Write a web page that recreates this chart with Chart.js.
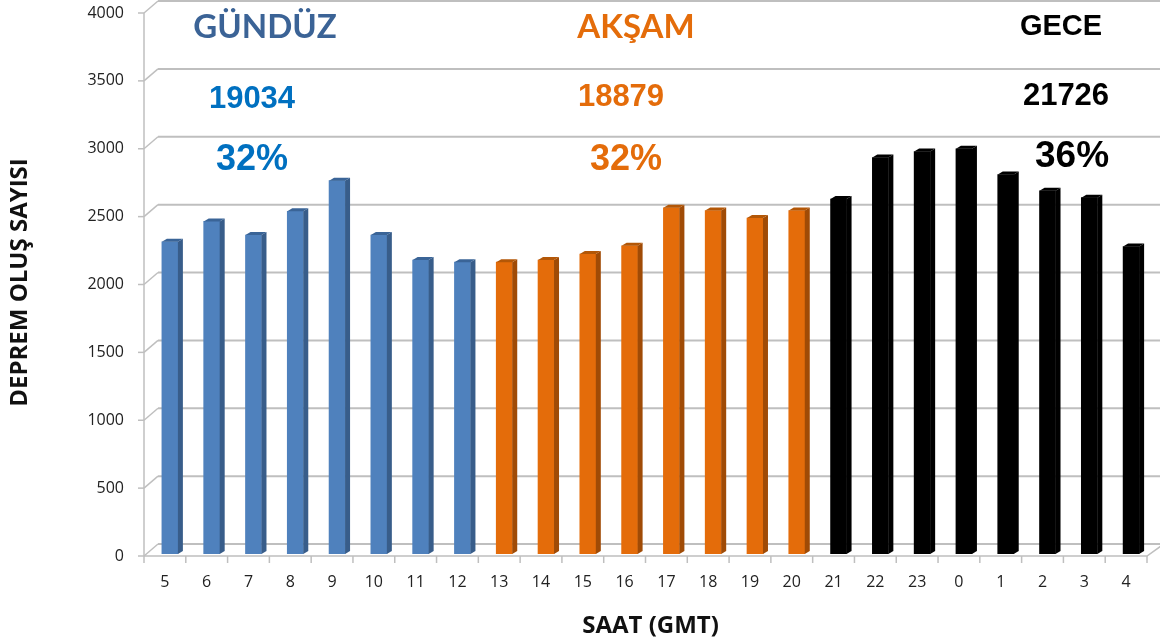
<!DOCTYPE html>
<html>
<head>
<meta charset="utf-8">
<script src="https://cdn.jsdelivr.net/npm/chart.js@4.4.0/dist/chart.umd.min.js"></script>
<style>
  html, body { margin: 0; padding: 0; background: #fff; }
  #wrap { width: 1160px; height: 644px; }
</style>
</head>
<body>
<div id="wrap"><canvas id="chart" width="1160" height="644"></canvas></div>
<script>
// hourly earthquake counts, GMT hours 5..4
const hours = ['5', '6', '7', '8', '9', '10', '11', '12', '13', '14', '15', '16',
  '17', '18', '19', '20', '21', '22', '23', '0', '1', '2', '3', '4']
const counts = [2300, 2450, 2350, 2525, 2750, 2350, 2165, 2150,
  2150, 2165, 2210, 2270, 2550, 2530, 2475, 2530,
  2615, 2920, 2965, 2985, 2795, 2675, 2625, 2265]

const periods = ['GÜNDÜZ', 'AKŞAM', 'GECE']
const periodHours = [8, 8, 8]
const periodTotals = [19034, 18879, 21726]
const periodShares = ['32%', '32%', '36%']

const FRONT = ['#4F81BD', '#E46C0A', '#000000']
const SIDE = ['#385D8A', '#A04B06', '#000000']
const CAP = ['#3A6497', '#B35707', '#000000']
const HEAD_COLORS = ['#3B6396', '#E46C0A', '#000000']
const NUM_COLORS = ['#0070C0', '#E46C0A', '#000000']

const GRID = '#BFBFBF'
const DX = 14, DY = -10 // back wall offset
const SHIFT = 5 // bars sit a little right of their label
const FRONT_DY = 2 // front edge sits a bit below the bars' base

function periodOf(i) {
  let acc = 0
  for (let p = 0; p < periodHours.length; p++) {
    acc += periodHours[p]
    if (i < acc) return p
  }
  return periodHours.length - 1
}

const wallPlugin = {
  id: 'wall',
  beforeDatasetsDraw(chart) {
    const { ctx, scales: { x, y } } = chart
    const left = x.left - SHIFT
    const right = x.right - SHIFT
    ctx.save()
    ctx.strokeStyle = GRID
    // back wall grid and connectors
    for (let v = 0; v <= 4000; v += 500) {
      const py = y.getPixelForValue(v)
      ctx.lineWidth = 2
      ctx.beginPath()
      ctx.moveTo(left + DX, py + DY)
      ctx.lineTo(chart.width, py + DY)
      ctx.stroke()
      ctx.lineWidth = 1.5
      ctx.beginPath()
      ctx.moveTo(left, py + FRONT_DY)
      ctx.lineTo(left + DX, py + DY)
      ctx.stroke()
      // front tick
      ctx.beginPath()
      ctx.moveTo(left - 6, py + FRONT_DY)
      ctx.lineTo(left, py + FRONT_DY)
      ctx.stroke()
    }
    // front axis line
    ctx.lineWidth = 1.5
    ctx.beginPath()
    ctx.moveTo(left, y.getPixelForValue(4000) + FRONT_DY)
    ctx.lineTo(left, y.getPixelForValue(0) + FRONT_DY)
    ctx.stroke()
    // floor front edge + right connector
    const base = y.getPixelForValue(0) + FRONT_DY
    ctx.beginPath()
    ctx.moveTo(left, base)
    ctx.lineTo(right, base)
    ctx.lineTo(right + DX, base + DY)
    ctx.stroke()
    // category tick marks
    const w = (x.right - x.left) / hours.length
    for (let i = 0; i <= hours.length; i++) {
      const px = x.left + i * w - SHIFT
      ctx.beginPath()
      ctx.moveTo(px, base)
      ctx.lineTo(px, base + 7)
      ctx.stroke()
    }
    ctx.restore()
  },
  afterDatasetsDraw(chart) {
    const { ctx } = chart
    const meta = chart.getDatasetMeta(0)
    ctx.save()
    meta.data.forEach((el, i) => {
      const p = periodOf(i)
      const l = el.x - el.width / 2
      const r = el.x + el.width / 2
      const d = 5, h = 3
      ctx.fillStyle = SIDE[p]
      ctx.beginPath()
      ctx.moveTo(r, el.y)
      ctx.lineTo(r + d, el.y - h)
      ctx.lineTo(r + d, el.base - h)
      ctx.lineTo(r, el.base)
      ctx.closePath()
      ctx.fill()
      ctx.fillStyle = CAP[p]
      ctx.beginPath()
      ctx.moveTo(l, el.y)
      ctx.lineTo(l + d, el.y - h)
      ctx.lineTo(r + d, el.y - h)
      ctx.lineTo(r, el.y)
      ctx.closePath()
      ctx.fill()
    })
    ctx.restore()
  },
}

const headPos = [[265, 27], [636, 27], [1061, 27]]
const totalPos = [[252, 99], [621, 97], [1066, 96]]
const sharePos = [[252, 160], [626, 160], [1072, 157]]

const textPlugin = {
  id: 'periodText',
  afterDraw(chart) {
    const { ctx } = chart
    ctx.save()
    ctx.textAlign = 'center'
    ctx.textBaseline = 'middle'
    periods.forEach((name, p) => {
      ctx.fillStyle = HEAD_COLORS[p]
      ctx.font = p === 2 ? 'bold 29px "Liberation Sans"' : 'bold 33px Lato'
      ctx.fillText(name, headPos[p][0], headPos[p][1])
      ctx.fillStyle = NUM_COLORS[p]
      ctx.font = 'bold 31px "Liberation Sans"'
      ctx.fillText(String(periodTotals[p]), totalPos[p][0], totalPos[p][1])
      ctx.font = p === 2 ? 'bold 37px "Liberation Sans"' : 'bold 36px "Liberation Sans"'
      ctx.fillText(periodShares[p], sharePos[p][0], sharePos[p][1])
    })
    ctx.restore()
  },
}

const ctx = document.getElementById('chart')
new Chart(ctx, {
  type: 'bar',
  data: {
    labels: hours,
    datasets: [
      {
        data: counts,
        backgroundColor: counts.map((_, i) => FRONT[periodOf(i)]),
        borderWidth: 0,
        barThickness: 16,
      },
    ],
  },
  options: {
    responsive: false,
    animation: false,
    layout: { padding: { top: 11, right: 8, left: 0, bottom: 0 } },
    plugins: {
      legend: { display: false },
      tooltip: { enabled: false },
    },
    scales: {
      x: {
        grid: { display: false, drawTicks: false },
        border: { display: false },
        ticks: {
          color: '#222',
          font: { family: 'Open Sans', size: 16 },
          padding: 19,
          labelOffset: -SHIFT,
          maxRotation: 0,
          autoSkip: false,
        },
        title: {
          display: true,
          text: 'SAAT (GMT)',
          color: '#111',
          font: { family: 'Open Sans', size: 24, weight: 'bold' },
          padding: { top: 0, bottom: 3 },
        },
        afterFit(scale) {
          scale.height = 90
          scale.paddingLeft = 0
          scale.paddingRight = 0
        },
      },
      y: {
        min: 0,
        max: 4000,
        grid: { display: false, drawTicks: false },
        border: { display: false },
        ticks: {
          stepSize: 500,
          padding: 25,
          labelOffset: FRONT_DY,
          color: '#222',
          font: { family: 'Open Sans', size: 16 },
          callback: (v) => String(v),
        },
        title: {
          display: true,
          text: 'DEPREM OLUŞ SAYISI',
          color: '#111',
          font: { family: 'Open Sans', size: 24, weight: 'bold' },
          padding: { top: 6, bottom: 4 },
        },
        afterFit(scale) {
          scale.width = 149
          scale.paddingTop = 0
          scale.paddingBottom = 0
        },
      },
    },
  },
  plugins: [wallPlugin, textPlugin],
})
</script>
</body>
</html>
